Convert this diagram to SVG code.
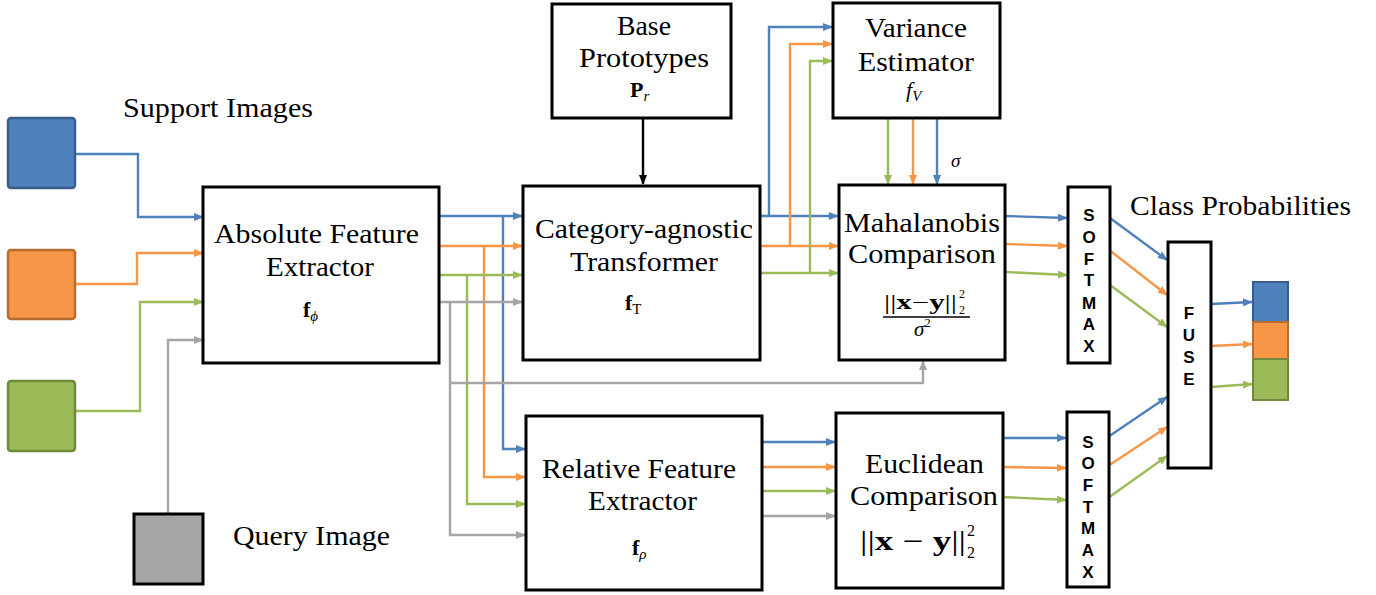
<svg xmlns="http://www.w3.org/2000/svg" width="1376" height="595" viewBox="0 0 1376 595">
<style>
  .box { fill: #ffffff; stroke: #000000; stroke-width: 3; }
  .lbl { font-family: "Liberation Serif", "Times New Roman", serif; font-size: 28px; fill: #000; }
  .math { font-family: "Liberation Serif", "Times New Roman", serif; fill: #000; }
  .sm { font-family: "Liberation Sans", Arial, sans-serif; font-weight: bold; font-size: 17px; fill: #000; text-anchor: middle; }
  .c { fill: none; stroke-width: 2.4; }
  .blue { stroke: #4F81BD; }
  .orange { stroke: #F79646; }
  .green { stroke: #9BBB59; }
  .gray { stroke: #A5A5A5; }
  .black { stroke: #000000; }
</style>
<defs>
  <marker id="ab" markerUnits="userSpaceOnUse" markerWidth="10" markerHeight="8" refX="9" refY="4" orient="auto"><path d="M0,0 L10,4 L0,8 Z" fill="#4F81BD"/></marker>
  <marker id="ao" markerUnits="userSpaceOnUse" markerWidth="10" markerHeight="8" refX="9" refY="4" orient="auto"><path d="M0,0 L10,4 L0,8 Z" fill="#F79646"/></marker>
  <marker id="ag" markerUnits="userSpaceOnUse" markerWidth="10" markerHeight="8" refX="9" refY="4" orient="auto"><path d="M0,0 L10,4 L0,8 Z" fill="#9BBB59"/></marker>
  <marker id="ay" markerUnits="userSpaceOnUse" markerWidth="10" markerHeight="8" refX="9" refY="4" orient="auto"><path d="M0,0 L10,4 L0,8 Z" fill="#A5A5A5"/></marker>
  <marker id="ak" markerUnits="userSpaceOnUse" markerWidth="10" markerHeight="8" refX="9" refY="4" orient="auto"><path d="M0,0 L10,4 L0,8 Z" fill="#000000"/></marker>
</defs>
<rect width="1376" height="595" fill="#ffffff"/>

<!-- connectors -->
<g id="connectors">
  <!-- blue -->
  <path class="c blue" marker-end="url(#ab)" d="M76,154 H138 V217 H203"/>
  <path class="c blue" marker-end="url(#ab)" d="M439,216 H522"/>
  <path class="c blue" marker-end="url(#ab)" d="M503,216 V449 H525"/>
  <path class="c blue" marker-end="url(#ab)" d="M760,216 H838"/>
  <path class="c blue" marker-end="url(#ab)" d="M769,216 V27 H832"/>
  <path class="c blue" marker-end="url(#ab)" d="M937,118 V184"/>
  <path class="c blue" marker-end="url(#ab)" d="M1005,216 L1067,218"/>
  <path class="c blue" marker-end="url(#ab)" d="M1110,218 L1167,260"/>
  <path class="c blue" marker-end="url(#ab)" d="M762,442 H835"/>
  <path class="c blue" marker-end="url(#ab)" d="M1003,438 H1066"/>
  <path class="c blue" marker-end="url(#ab)" d="M1108,437 L1167,397"/>
  <path class="c blue" marker-end="url(#ab)" d="M1211,304 L1252,302"/>
  <!-- orange -->
  <path class="c orange" marker-end="url(#ao)" d="M76,284 H137 V253 H203"/>
  <path class="c orange" marker-end="url(#ao)" d="M439,246 H522"/>
  <path class="c orange" marker-end="url(#ao)" d="M484,246 V477 H525"/>
  <path class="c orange" marker-end="url(#ao)" d="M760,246 H838"/>
  <path class="c orange" marker-end="url(#ao)" d="M790,246 V44 H832"/>
  <path class="c orange" marker-end="url(#ao)" d="M913,118 V184"/>
  <path class="c orange" marker-end="url(#ao)" d="M1005,244 L1067,246"/>
  <path class="c orange" marker-end="url(#ao)" d="M1108,249 L1167,295"/>
  <path class="c orange" marker-end="url(#ao)" d="M762,467 H835"/>
  <path class="c orange" marker-end="url(#ao)" d="M1003,467 L1066,468"/>
  <path class="c orange" marker-end="url(#ao)" d="M1108,466 L1167,427"/>
  <path class="c orange" marker-end="url(#ao)" d="M1211,346 L1252,344"/>
  <!-- green -->
  <path class="c green" marker-end="url(#ag)" d="M76,411 H140 V302 H203"/>
  <path class="c green" marker-end="url(#ag)" d="M439,275 H522"/>
  <path class="c green" marker-end="url(#ag)" d="M467,275 V504 H525"/>
  <path class="c green" marker-end="url(#ag)" d="M760,273 H838"/>
  <path class="c green" marker-end="url(#ag)" d="M810,273 V61 H832"/>
  <path class="c green" marker-end="url(#ag)" d="M888,118 V184"/>
  <path class="c green" marker-end="url(#ag)" d="M1005,272 L1067,275"/>
  <path class="c green" marker-end="url(#ag)" d="M1110,285 L1167,327"/>
  <path class="c green" marker-end="url(#ag)" d="M762,491 H835"/>
  <path class="c green" marker-end="url(#ag)" d="M1003,497 L1066,500"/>
  <path class="c green" marker-end="url(#ag)" d="M1108,498 L1167,456"/>
  <path class="c green" marker-end="url(#ag)" d="M1211,387 L1252,384"/>
  <!-- gray -->
  <path class="c gray" marker-end="url(#ay)" d="M168,514 V340 H203"/>
  <path class="c gray" marker-end="url(#ay)" d="M439,302 H522"/>
  <path class="c gray" marker-end="url(#ay)" d="M450,302 V535 H525"/>
  <path class="c gray" marker-end="url(#ay)" d="M450,383 H923 V361"/>
  <path class="c gray" marker-end="url(#ay)" d="M762,516 H835"/>
  <!-- black -->
  <path class="c black" stroke-width="2.5" marker-end="url(#ak)" d="M643,118 V184"/>
</g>

<!-- input images -->
<g id="support-blue"><rect x="8" y="118" width="67" height="70" rx="3" fill="#4F81BD" stroke="#385D8A" stroke-width="2.5"/></g>
<g id="support-orange"><rect x="8" y="250" width="67" height="69" rx="3" fill="#F79646" stroke="#B66D31" stroke-width="2.5"/></g>
<g id="support-green"><rect x="8" y="381" width="67" height="70" rx="3" fill="#9BBB59" stroke="#71893F" stroke-width="2.5"/></g>
<g id="support-label"><text class="lbl" x="123" y="117" textLength="190" lengthAdjust="spacingAndGlyphs">Support Images</text></g>
<g id="query"><rect x="134" y="514" width="69" height="70" fill="#A6A6A6" stroke="#000" stroke-width="3"/></g>
<g id="query-label"><text class="lbl" x="233" y="545" textLength="157" lengthAdjust="spacingAndGlyphs">Query Image</text></g>

<!-- Absolute Feature Extractor -->
<g id="absolute">
  <rect class="box" x="203" y="187" width="236" height="176"/>
  <text class="lbl" x="214" y="243" textLength="205" lengthAdjust="spacingAndGlyphs">Absolute Feature</text>
  <text class="lbl" x="266" y="276" textLength="108" lengthAdjust="spacingAndGlyphs">Extractor</text>
  <text class="math" x="303" y="317" font-size="22"><tspan font-weight="bold">f</tspan><tspan font-style="italic" font-size="15" dy="4">ϕ</tspan></text>
</g>

<!-- Base Prototypes -->
<g id="base">
  <rect class="box" x="552" y="4" width="179" height="114"/>
  <text class="lbl" x="617" y="35" textLength="54" lengthAdjust="spacingAndGlyphs">Base</text>
  <text class="lbl" x="579" y="67" textLength="130" lengthAdjust="spacingAndGlyphs">Prototypes</text>
  <text class="math" x="630" y="97" font-size="22"><tspan font-weight="bold">P</tspan><tspan font-style="italic" font-size="15" dy="4">r</tspan></text>
</g>

<!-- Category-agnostic Transformer -->
<g id="transformer">
  <rect class="box" x="523" y="186" width="237" height="174"/>
  <text class="lbl" x="535" y="238" textLength="218" lengthAdjust="spacingAndGlyphs">Category-agnostic</text>
  <text class="lbl" x="570" y="271" textLength="148" lengthAdjust="spacingAndGlyphs">Transformer</text>
  <text class="math" x="625" y="310" font-size="22"><tspan font-weight="bold">f</tspan><tspan font-size="15" dy="4">T</tspan></text>
</g>

<!-- Variance Estimator -->
<g id="variance">
  <rect class="box" x="833" y="3" width="167" height="115"/>
  <text class="lbl" x="865" y="37" textLength="102" lengthAdjust="spacingAndGlyphs">Variance</text>
  <text class="lbl" x="858" y="71" textLength="116" lengthAdjust="spacingAndGlyphs">Estimator</text>
  <text class="math" x="906" y="97" font-size="22" font-style="italic">f<tspan font-size="15" dy="4">V</tspan></text>
</g>
<g id="sigma-label"><text class="math" x="951" y="167" font-size="19" font-style="italic">σ</text></g>

<!-- Mahalanobis Comparison -->
<g id="mahalanobis">
  <rect class="box" x="839" y="185" width="166" height="175"/>
  <text class="lbl" x="844" y="232" textLength="156" lengthAdjust="spacingAndGlyphs">Mahalanobis</text>
  <text class="lbl" x="848" y="263" textLength="148" lengthAdjust="spacingAndGlyphs">Comparison</text>
  <text class="math" x="884" y="309" font-size="20" textLength="73" lengthAdjust="spacingAndGlyphs">||<tspan font-weight="bold">x</tspan>−<tspan font-weight="bold">y</tspan>||</text>
  <text class="math" x="959" y="298" font-size="12">2</text>
  <text class="math" x="959" y="314" font-size="12">2</text>
  <line x1="883" y1="317" x2="970" y2="317" stroke="#000" stroke-width="1.5"/>
  <text class="math" x="914" y="336" font-size="21" font-style="italic">σ<tspan font-style="normal" font-size="13" dy="-9">2</tspan></text>
</g>

<!-- Relative Feature Extractor -->
<g id="relative">
  <rect class="box" x="526" y="416" width="236" height="174"/>
  <text class="lbl" x="542" y="478" textLength="194" lengthAdjust="spacingAndGlyphs">Relative Feature</text>
  <text class="lbl" x="588" y="510" textLength="109" lengthAdjust="spacingAndGlyphs">Extractor</text>
  <text class="math" x="632" y="555" font-size="22"><tspan font-weight="bold">f</tspan><tspan font-style="italic" font-size="15" dy="4">ρ</tspan></text>
</g>

<!-- Euclidean Comparison -->
<g id="euclidean">
  <rect class="box" x="836" y="413" width="167" height="175"/>
  <text class="lbl" x="865" y="473" textLength="119" lengthAdjust="spacingAndGlyphs">Euclidean</text>
  <text class="lbl" x="850" y="505" textLength="148" lengthAdjust="spacingAndGlyphs">Comparison</text>
  <text class="math" x="860" y="550" font-size="27" textLength="106" lengthAdjust="spacingAndGlyphs">||<tspan font-weight="bold">x</tspan> − <tspan font-weight="bold">y</tspan>||</text>
  <text class="math" x="967" y="536" font-size="16">2</text>
  <text class="math" x="967" y="558" font-size="16">2</text>
</g>

<!-- Softmax top -->
<g id="softmax-top">
  <rect class="box" x="1068" y="187" width="42" height="176"/>
  <text class="sm" x="1089" y="221">S</text>
  <text class="sm" x="1089" y="243">O</text>
  <text class="sm" x="1089" y="265">F</text>
  <text class="sm" x="1089" y="286">T</text>
  <text class="sm" x="1089" y="309">M</text>
  <text class="sm" x="1089" y="330">A</text>
  <text class="sm" x="1089" y="352">X</text>
</g>

<!-- Softmax bottom -->
<g id="softmax-bottom">
  <rect class="box" x="1067" y="412" width="42" height="175"/>
  <text class="sm" x="1088" y="448">S</text>
  <text class="sm" x="1088" y="469">O</text>
  <text class="sm" x="1088" y="491">F</text>
  <text class="sm" x="1088" y="513">T</text>
  <text class="sm" x="1088" y="534">M</text>
  <text class="sm" x="1088" y="556">A</text>
  <text class="sm" x="1088" y="578">X</text>
</g>

<!-- FUSE -->
<g id="fuse">
  <rect class="box" x="1168" y="242" width="43" height="226"/>
  <text class="sm" x="1189" y="319">F</text>
  <text class="sm" x="1189" y="341">U</text>
  <text class="sm" x="1189" y="363">S</text>
  <text class="sm" x="1189" y="385">E</text>
</g>

<!-- Class probabilities -->
<g id="class-label"><text class="lbl" x="1130" y="215" textLength="221" lengthAdjust="spacingAndGlyphs">Class Probabilities</text></g>
<g id="prob-blue"><rect x="1253" y="282" width="35" height="40" fill="#4F81BD" stroke="#385D8A" stroke-width="2"/></g>
<g id="prob-orange"><rect x="1253" y="322" width="35" height="37" fill="#F79646" stroke="#B66D31" stroke-width="2"/></g>
<g id="prob-green"><rect x="1253" y="359" width="35" height="41" fill="#9BBB59" stroke="#71893F" stroke-width="2"/></g>
</svg>
